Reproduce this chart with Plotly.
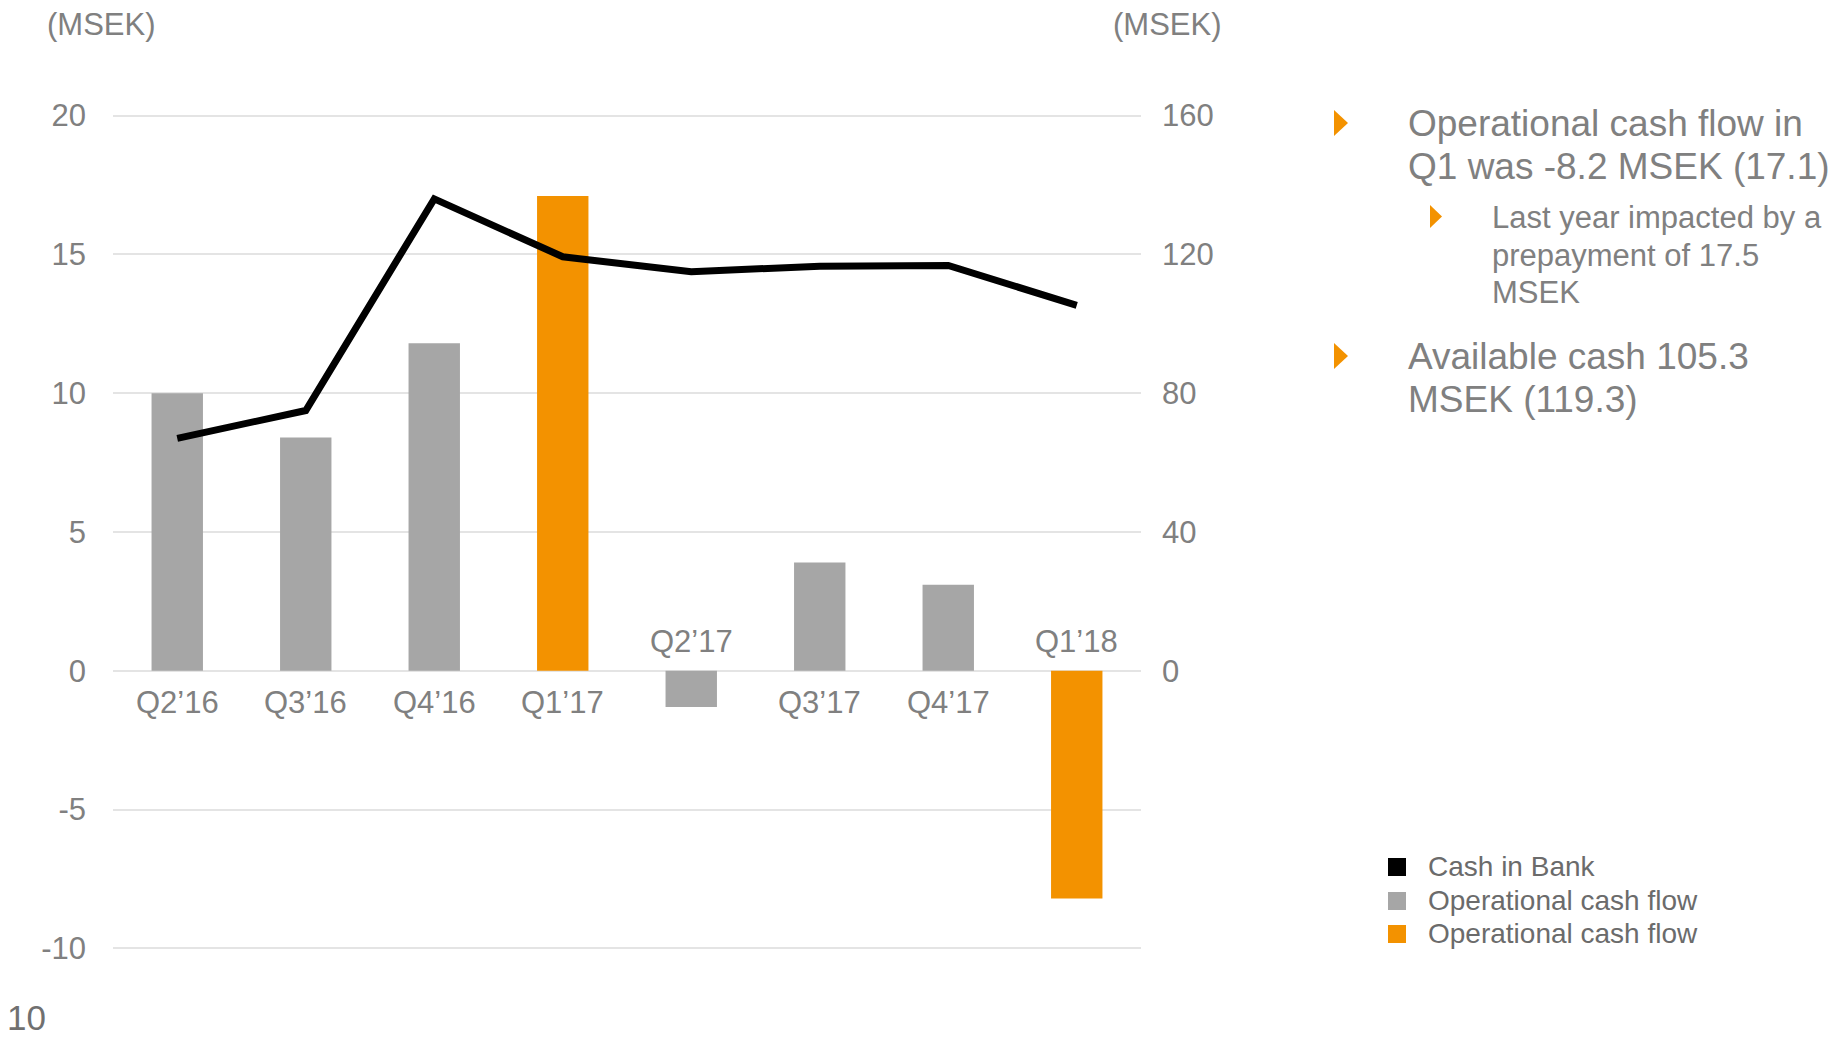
import plotly.graph_objects as go

# ---------------- data ----------------
quarters = ["Q2’16", "Q3’16", "Q4’16", "Q1’17", "Q2’17", "Q3’17", "Q4’17", "Q1’18"]
op_cash_flow = [10.0, 8.4, 11.8, 17.1, -1.3, 3.9, 3.1, -8.2]      # MSEK, left axis
is_q1 = [False, False, False, True, False, False, False, True]      # orange highlight
cash_in_bank = [67.0, 75.0, 136.0, 119.3, 115.0, 116.6, 116.8, 105.3]  # MSEK, right axis

left_ticks = [-10, -5, 0, 5, 10, 15, 20]
right_ticks = [0, 40, 80, 120, 160]

legend_labels = ["Cash in Bank", "Operational cash flow", "Operational cash flow"]

bullets = [
    ["Operational cash flow in", "Q1 was -8.2 MSEK (17.1)"],
    ["Available cash 105.3", "MSEK (119.3)"],
]
sub_bullet = ["Last year impacted by a", "prepayment of 17.5", "MSEK"]

# ---------------- style ----------------
W, H = 1845, 1039
ML, MR, MT, MB = 113, W - 1141, 110, H - 954
PW, PH = W - ML - MR, H - MT - MB
FONT = "Liberation Sans, Arial, sans-serif"
GRAY_TXT = "#808080"
GRAY_BAR = "#a6a6a6"
ORANGE = "#f39200"


def px(x):
    return (x - ML) / PW


def py(y):
    return (H - MB - y) / PH


gray_vals = [v if not h else None for v, h in zip(op_cash_flow, is_q1)]
orange_vals = [v if h else None for v, h in zip(op_cash_flow, is_q1)]

fig = go.Figure()
fig.add_trace(go.Bar(x=quarters, y=gray_vals, name="Operational cash flow",
                     marker=dict(color=GRAY_BAR, line=dict(width=0)), width=0.4,
                     showlegend=False, yaxis="y"))
fig.add_trace(go.Bar(x=quarters, y=orange_vals, name="Operational cash flow",
                     marker=dict(color=ORANGE, line=dict(width=0)), width=0.4,
                     showlegend=False, yaxis="y"))
fig.add_trace(go.Scatter(x=quarters, y=cash_in_bank, name="Cash in Bank", mode="lines",
                         line=dict(color="black", width=7), showlegend=False, yaxis="y2"))

annotations = []
# category labels at the zero line: below for positive bars, above for negative
for q, v in zip(quarters, op_cash_flow):
    annotations.append(dict(x=q, y=0, xref="x", yref="y", text=q, showarrow=False,
                            xanchor="center", yanchor="middle",
                            yshift=(-32 if v >= 0 else 29),
                            font=dict(family=FONT, size=31, color=GRAY_TXT)))

# axis unit titles
annotations.append(dict(x=px(45), y=py(25), xref="paper", yref="paper", text="(MSEK)",
                        showarrow=False, xanchor="left", yanchor="middle",
                        font=dict(family=FONT, size=31, color=GRAY_TXT)))
annotations.append(dict(x=px(1111), y=py(25), xref="paper", yref="paper", text="(MSEK)",
                        showarrow=False, xanchor="left", yanchor="middle",
                        font=dict(family=FONT, size=31, color=GRAY_TXT)))
# page number
annotations.append(dict(x=px(5), y=py(1018), xref="paper", yref="paper", text="10",
                        showarrow=False, xanchor="left", yanchor="middle",
                        font=dict(family=FONT, size=35, color="#707070")))

shapes = []


def tri(x0, x1, y0, y1):
    ym = (y0 + y1) / 2
    return dict(type="path", xref="paper", yref="paper",
                path=f"M {px(x0)} {py(y0)} L {px(x1)} {py(ym)} L {px(x0)} {py(y1)} Z",
                fillcolor=ORANGE, line=dict(width=0))


# bullet 1
shapes.append(tri(1334, 1348, 110, 136))
for i, line in enumerate(bullets[0]):
    annotations.append(dict(x=px(1406), y=py(123.5 + i * 43.5), xref="paper", yref="paper",
                            text=line, showarrow=False, xanchor="left", yanchor="middle",
                            font=dict(family=FONT, size=37, color=GRAY_TXT)))
# sub bullet
shapes.append(tri(1430, 1442, 205, 228))
for i, line in enumerate(sub_bullet):
    annotations.append(dict(x=px(1490), y=py(217.5 + i * 37.5), xref="paper", yref="paper",
                            text=line, showarrow=False, xanchor="left", yanchor="middle",
                            font=dict(family=FONT, size=31, color=GRAY_TXT)))
# bullet 2
shapes.append(tri(1334, 1348, 343, 369))
for i, line in enumerate(bullets[1]):
    annotations.append(dict(x=px(1406), y=py(356 + i * 43.5), xref="paper", yref="paper",
                            text=line, showarrow=False, xanchor="left", yanchor="middle",
                            font=dict(family=FONT, size=37, color=GRAY_TXT)))

# manual legend
legend_colors = ["black", GRAY_BAR, ORANGE]
legend_y = [867, 901, 934]
for lab, col, yc in zip(legend_labels, legend_colors, legend_y):
    shapes.append(dict(type="rect", xref="paper", yref="paper",
                       x0=px(1388), x1=px(1406), y0=py(yc - 9), y1=py(yc + 9),
                       fillcolor=col, line=dict(width=0)))
    annotations.append(dict(x=px(1426), y=py(yc - 1), xref="paper", yref="paper", text=lab,
                            showarrow=False, xanchor="left", yanchor="middle",
                            font=dict(family=FONT, size=28, color="#6b6b6b")))

fig.update_layout(
    width=W, height=H,
    margin=dict(l=ML, r=MR, t=MT, b=MB, pad=0),
    paper_bgcolor="white", plot_bgcolor="white",
    barmode="overlay",
    showlegend=False,
    font=dict(family=FONT, color=GRAY_TXT),
    xaxis=dict(type="category", range=[-0.5, 7.5], showticklabels=False, showgrid=False,
               zeroline=False, showline=False, ticks=""),
    yaxis=dict(range=[-10.2, 20.2], tickvals=left_ticks, ticktext=[str(t) for t in left_ticks],
               showgrid=True, gridcolor="#e4e4e4", gridwidth=1.5, zeroline=False,
               showline=False, ticks="", ticklabelstandoff=26,
               tickfont=dict(family=FONT, size=31, color=GRAY_TXT)),
    yaxis2=dict(range=[-81.6, 161.6], overlaying="y", side="right", tickvals=right_ticks,
                ticktext=[str(t) for t in right_ticks], showgrid=False, zeroline=False,
                showline=False, ticks="", ticklabelstandoff=20,
                tickfont=dict(family=FONT, size=31, color=GRAY_TXT)),
    annotations=annotations,
    shapes=shapes,
)

fig.write_html(
    "out.html",
    config={"displayModeBar": False},
    post_script="document.body.style.margin='0px';document.body.style.overflow='hidden';",
)
